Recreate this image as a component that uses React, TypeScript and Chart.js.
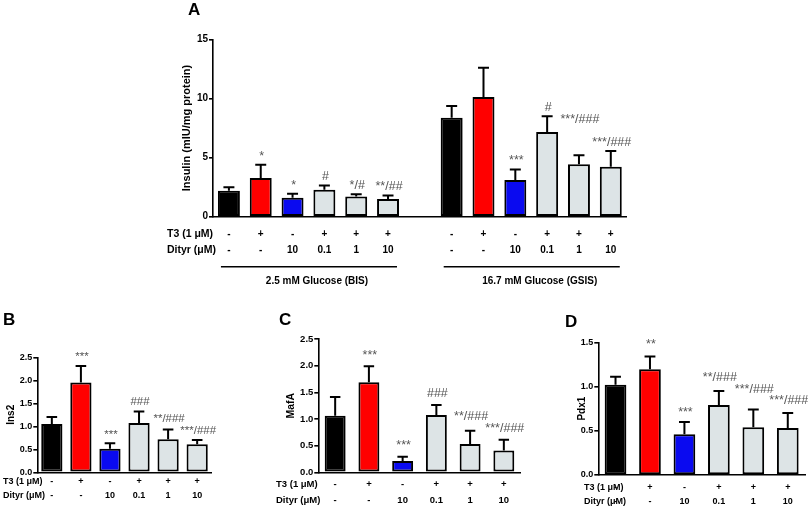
import React, { useEffect, useRef } from "react";
import { Chart, registerables } from "chart.js";

Chart.register(...registerables);

const FONT = "'Liberation Sans', Arial, Helvetica, sans-serif";

// ---------- data ----------
const T3_ROW = ["-", "+", "-", "+", "+", "+"];
const DITYR_ROW = ["-", "-", "10", "0.1", "1", "10"];
const ROW_LABELS = ["T3 (1 μM)", "Dityr (μM)"];
const GROUP_LABELS = ["2.5 mM Glucose (BIS)", "16.7 mM Glucose (GSIS)"];
const BAR_COLORS = ["#000000", "#ff0000", "#0a0af0", "#dde4e6", "#dde4e6", "#dde4e6"];

const insulinBIS = [2.2, 3.27, 1.6, 2.27, 1.7, 1.5];
const insulinBISErr = [0.3, 1.13, 0.35, 0.37, 0.2, 0.3];
const insulinGSIS = [8.37, 10.12, 3.1, 7.16, 4.43, 4.23];
const insulinGSISErr = [0.99, 2.48, 0.9, 1.33, 0.77, 1.32];
const sigBIS = ["", "*", "*", "#", "*/#", "**/##"];
const sigGSIS = ["", "", "***", "#", "***/###", "***/###"];
const insulinTicks = [0, 5, 10, 15];

const ins2 = [1.05, 1.95, 0.51, 1.07, 0.72, 0.61];
const ins2Err = [0.15, 0.36, 0.12, 0.25, 0.21, 0.09];
const sigIns2 = ["", "***", "***", "###", "**/###", "***/###"];

const mafA = [1.06, 1.69, 0.21, 1.075, 0.53, 0.41];
const mafAErr = [0.35, 0.3, 0.08, 0.185, 0.25, 0.2];
const sigMafA = ["", "***", "***", "###", "**/###", "***/###"];
const expressionTicks = [0, 0.5, 1.0, 1.5, 2.0, 2.5];

const pdx1 = [1.02, 1.195, 0.46, 0.79, 0.54, 0.53];
const pdx1Err = [0.09, 0.145, 0.14, 0.16, 0.2, 0.17];
const sigPdx1 = ["", "**", "***", "**/###", "***/###", "***/###"];
const pdx1Ticks = [0, 0.5, 1.0, 1.5];

// ---------- panel configs ----------
type Area = { l: number; r: number; t: number; b: number };
type PanelCfg = {
  left: number; top: number; width: number; height: number;
  labels: string[][];
  values: (number | null)[];
  errors: (number | null)[];
  sig: string[];
  sigLift: number[];
  colors: string[];
  yMax: number; yTicks: number[]; decimals: number; yTitle: string;
  letter: string; letterX: number; letterY: number;
  area: Area; yW: number; xH: number;
  titleSize: number; yTickSize: number; tickSize: number; rowSize: number;
  lineH: number; tickPad: number; rowLabelX: number; sigSize: number; barPct: number;
  groups?: { label: string; from: number; to: number }[];
  groupLineY?: number; groupLabelY?: number;
};

const rowLabels = (n: number) => T3_ROW.slice(0, n).map((t, i) => [t, DITYR_ROW[i]]);

const panelA: PanelCfg = {
  left: 150, top: 0, width: 500, height: 300,
  labels: [...rowLabels(6), ["", ""], ...rowLabels(6)],
  values: [...insulinBIS, null, ...insulinGSIS],
  errors: [...insulinBISErr, null, ...insulinGSISErr],
  sig: [...sigBIS, "", ...sigGSIS],
  sigLift: [0, 0, 0, 0, 0, 0, 0, 0, 0, 0, 0, 27, 0],
  colors: [...BAR_COLORS, "#fff", ...BAR_COLORS],
  yMax: 15, yTicks: insulinTicks, decimals: 0, yTitle: "Insulin (mIU/mg protein)",
  letter: "A", letterX: 38, letterY: 15,
  area: { l: 63, r: 476.7, t: 39.3, b: 216.7 }, yW: 32.6, xH: 40,
  titleSize: 11, yTickSize: 10, tickSize: 10, rowSize: 10.5,
  lineH: 16, tickPad: 9.3, rowLabelX: 17, sigSize: 12.5, barPct: 0.69,
  groups: [
    { label: GROUP_LABELS[0], from: 0, to: 5 },
    { label: GROUP_LABELS[1], from: 7, to: 12 },
  ],
  groupLineY: 266.7, groupLabelY: 281.7,
};

const panelB: PanelCfg = {
  left: 0, top: 300, width: 270, height: 211,
  labels: rowLabels(6), values: ins2, errors: ins2Err, sig: sigIns2,
  sigLift: [0, 1, 0, 1, 2, 1], colors: BAR_COLORS,
  yMax: 2.5, yTicks: expressionTicks, decimals: 1, yTitle: "Ins2",
  letter: "B", letterX: 3, letterY: 25,
  area: { l: 37.3, r: 211.7, t: 57.3, b: 172.3 }, yW: 31.6, xH: 36,
  titleSize: 10, yTickSize: 9, tickSize: 9, rowSize: 9,
  lineH: 14.3, tickPad: 2.2, rowLabelX: 3, sigSize: 11.5, barPct: 0.73,
};

const panelC: PanelCfg = {
  left: 270, top: 300, width: 270, height: 211,
  labels: rowLabels(6), values: mafA, errors: mafAErr, sig: sigMafA,
  sigLift: [0, 2.5, 2.5, 3.5, 5.5, 3], colors: BAR_COLORS,
  yMax: 2.5, yTicks: expressionTicks, decimals: 1, yTitle: "MafA",
  letter: "C", letterX: 9, letterY: 25,
  area: { l: 48.3, r: 250.7, t: 39, b: 172.3 }, yW: 33.6, xH: 36,
  titleSize: 10.5, yTickSize: 9.5, tickSize: 9.5, rowSize: 9.5,
  lineH: 15.7, tickPad: 4.2, rowLabelX: 6, sigSize: 12.5, barPct: 0.62,
};

const panelD: PanelCfg = {
  left: 540, top: 300, width: 268, height: 211,
  labels: rowLabels(6), values: pdx1, errors: pdx1Err, sig: sigPdx1,
  sigLift: [0, 3, 0.5, 5, 11, 4.5], colors: BAR_COLORS,
  yMax: 1.5, yTicks: pdx1Ticks, decimals: 1, yTitle: "Pdx1",
  letter: "D", letterX: 25, letterY: 27,
  area: { l: 58.3, r: 265, t: 42.3, b: 175 }, yW: 22, xH: 33,
  titleSize: 10, yTickSize: 9, tickSize: 9, rowSize: 9,
  lineH: 14, tickPad: 5.7, rowLabelX: 44, sigSize: 12.5, barPct: 0.63,
};

// ---------- chart ----------
function makeDecor(cfg: PanelCfg) {
  return {
    id: "decor" + cfg.letter,
    afterDatasetsDraw(chart: any) {
      const ctx: CanvasRenderingContext2D = chart.ctx;
      const xs = chart.scales.x;
      const ys = chart.scales.y;
      const meta = chart.getDatasetMeta(0);
      ctx.save();
      cfg.values.forEach((v, i) => {
        const e = cfg.errors[i];
        if (v == null || e == null) return;
        const bar: any = meta.data[i];
        const px = bar.x;
        const w = bar.width;
        const yTop = ys.getPixelForValue(v);
        const yErr = ys.getPixelForValue(v + e);
        ctx.strokeStyle = "#000";
        ctx.lineWidth = 2;
        ctx.lineCap = "butt";
        ctx.beginPath();
        ctx.moveTo(px, yTop);
        ctx.lineTo(px, yErr);
        ctx.moveTo(px - w / 4, yErr);
        ctx.lineTo(px + w / 4, yErr);
        ctx.stroke();
        const s = cfg.sig[i];
        if (s) {
          ctx.fillStyle = "#555";
          ctx.font = `${cfg.sigSize}px ${FONT}`;
          ctx.textAlign = "center";
          ctx.textBaseline = "middle";
          ctx.fillText(s, px + 1, yErr - 8.5 - (cfg.sigLift[i] || 0));
        }
      });
      // row labels
      ctx.fillStyle = "#000";
      ctx.font = `bold ${cfg.rowSize}px ${FONT}`;
      ctx.textAlign = "left";
      ctx.textBaseline = "middle";
      ROW_LABELS.forEach((t, i) => {
        ctx.fillText(t, cfg.rowLabelX, xs.top + cfg.tickPad + cfg.lineH * (i + 0.5));
      });
      // panel letter
      ctx.font = `bold 17px ${FONT}`;
      ctx.textBaseline = "alphabetic";
      ctx.fillText(cfg.letter, cfg.letterX, cfg.letterY);
      // groups
      if (cfg.groups) {
        cfg.groups.forEach((g) => {
          const b0: any = meta.data[g.from];
          const b1: any = meta.data[g.to];
          const x0 = b0.x - b0.width / 2 + 3;
          const x1 = b1.x + b1.width / 2 - 2;
          ctx.strokeStyle = "#000";
          ctx.lineWidth = 1.6;
          ctx.beginPath();
          ctx.moveTo(x0, cfg.groupLineY!);
          ctx.lineTo(x1, cfg.groupLineY!);
          ctx.stroke();
          ctx.font = `bold 10px ${FONT}`;
          ctx.textAlign = "center";
          ctx.textBaseline = "middle";
          ctx.fillText(g.label, (x0 + x1) / 2 + 8, cfg.groupLabelY!);
        });
      }
      ctx.restore();
    },
  };
}

function Panel({ cfg }: { cfg: PanelCfg }) {
  const ref = useRef<HTMLCanvasElement>(null);
  useEffect(() => {
    const c = cfg;
    const chart = new Chart(ref.current!, {
      type: "bar",
      data: {
        labels: c.labels as any,
        datasets: [
          {
            data: c.values as any,
            backgroundColor: c.colors,
            borderColor: "#000",
            borderWidth: 2,
            borderSkipped: false,
            barPercentage: c.barPct,
            categoryPercentage: 1,
          },
        ],
      },
      options: {
        responsive: true,
        maintainAspectRatio: false,
        animation: false,
        events: [],
        layout: {
          padding: {
            left: c.area.l - c.yW,
            right: c.width - c.area.r,
            top: c.area.t,
            bottom: c.height - c.area.b - c.xH,
          },
        },
        plugins: {
          legend: { display: false },
          tooltip: { enabled: false },
          title: { display: false },
        },
        scales: {
          x: {
            type: "category",
            offset: true,
            grid: { display: false, drawTicks: false },
            border: { display: true, color: "#000", width: 1.6 },
            ticks: {
              autoSkip: false,
              maxRotation: 0,
              minRotation: 0,
              padding: c.tickPad,
              color: "#000",
              font: { family: FONT, size: c.tickSize, weight: "bold", lineHeight: c.lineH / c.tickSize },
            },
            afterFit: (s: any) => {
              s.height = c.xH;
            },
          },
          y: {
            min: 0,
            max: c.yMax,
            grid: {
              display: true,
              drawOnChartArea: false,
              drawTicks: true,
              tickLength: 4,
              color: "#000",
              lineWidth: 1.6,
            },
            border: { display: true, color: "#000", width: 1.6 },
            ticks: {
              padding: 1,
              color: "#000",
              font: { family: FONT, size: c.yTickSize, weight: "bold" },
              callback: (v: any) => Number(v).toFixed(c.decimals),
            },
            afterBuildTicks: (s: any) => {
              s.ticks = c.yTicks.map((v) => ({ value: v }));
            },
            afterFit: (s: any) => {
              s.width = c.yW;
            },
            title: {
              display: true,
              text: c.yTitle,
              color: "#000",
              padding: 0,
              font: { family: FONT, size: c.titleSize, weight: "bold", lineHeight: 1.2 },
            },
          },
        },
      },
      plugins: [makeDecor(c)],
    } as any);
    return () => chart.destroy();
  }, [cfg]);
  return (
    <div style={{ position: "absolute", left: cfg.left, top: cfg.top, width: cfg.width, height: cfg.height }}>
      <canvas ref={ref} />
    </div>
  );
}

export default function App() {
  return (
    <div style={{ position: "absolute", left: 0, top: 0, width: 808, height: 511, background: "#fff", overflow: "hidden" }}>
      <Panel cfg={panelA} />
      <Panel cfg={panelB} />
      <Panel cfg={panelC} />
      <Panel cfg={panelD} />
    </div>
  );
}
